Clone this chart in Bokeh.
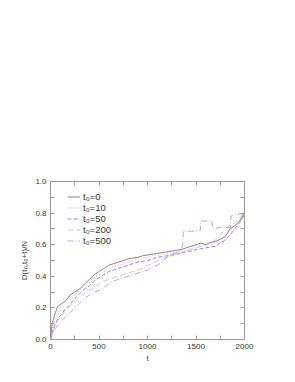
from bokeh.plotting import figure
from bokeh.models import Range1d, LinearAxis, FixedTicker, Legend, LegendItem
from bokeh.embed import file_html
from bokeh.resources import INLINE

# ---- data ----
t_common = [0, 10, 25, 50, 75, 100, 150, 200, 250, 300, 350, 400, 450, 500, 550, 600, 650, 700,
            750, 800, 850, 900, 950, 1000, 1050, 1100, 1150, 1200, 1250, 1300, 1350, 1400, 1450,
            1500, 1550, 1600, 1650, 1700, 1750, 1800, 1850, 1900, 1950, 2000]
d_t0_0 = [0, 0.07, 0.12, 0.17, 0.21, 0.22, 0.24, 0.28, 0.30, 0.32, 0.35, 0.38, 0.41, 0.43, 0.45,
          0.47, 0.48, 0.49, 0.50, 0.51, 0.515, 0.52, 0.53, 0.535, 0.54, 0.545, 0.55, 0.555, 0.56,
          0.565, 0.57, 0.58, 0.59, 0.60, 0.61, 0.60, 0.615, 0.62, 0.635, 0.65, 0.70, 0.72, 0.75, 0.80]
d_t0_10 = [0, 0.05, 0.09, 0.13, 0.16, 0.18, 0.22, 0.25, 0.28, 0.31, 0.34, 0.37, 0.39, 0.41, 0.43,
           0.45, 0.46, 0.47, 0.48, 0.49, 0.50, 0.51, 0.515, 0.52, 0.53, 0.535, 0.54, 0.545, 0.55,
           0.555, 0.56, 0.57, 0.575, 0.59, 0.60, 0.595, 0.60, 0.61, 0.62, 0.645, 0.69, 0.72, 0.76, 0.80]
d_t0_50 = [0, 0.03, 0.06, 0.10, 0.13, 0.15, 0.19, 0.22, 0.26, 0.29, 0.32, 0.34, 0.37, 0.39, 0.41,
           0.43, 0.44, 0.45, 0.46, 0.47, 0.48, 0.49, 0.495, 0.50, 0.51, 0.52, 0.525, 0.53, 0.535,
           0.54, 0.55, 0.555, 0.56, 0.57, 0.575, 0.58, 0.585, 0.59, 0.61, 0.63, 0.66, 0.70, 0.74, 0.79]
d_t0_200 = [0, 0.03, 0.05, 0.09, 0.12, 0.14, 0.18, 0.21, 0.24, 0.27, 0.29, 0.31, 0.33, 0.35, 0.37,
            0.38, 0.39, 0.40, 0.41, 0.42, 0.43, 0.44, 0.45, 0.47, 0.48, 0.50, 0.51, 0.52, 0.53,
            0.54, 0.55, 0.56, 0.57, 0.58, 0.59, 0.60, 0.61, 0.63, 0.66, 0.70, 0.72, 0.74, 0.77, 0.81]
t_500 = [0, 10, 25, 50, 75, 100, 150, 200, 250, 300, 350, 400, 450, 500, 550, 600, 650, 700, 750,
         800, 850, 900, 950, 1000, 1050, 1100, 1150, 1200, 1250, 1300, 1350, 1365, 1370, 1450,
         1545, 1550, 1600, 1665, 1670, 1750, 1855, 1860, 1900, 2000]
d_t0_500 = [0, 0.02, 0.04, 0.07, 0.09, 0.11, 0.14, 0.17, 0.20, 0.23, 0.26, 0.28, 0.30, 0.31, 0.33,
            0.35, 0.37, 0.38, 0.39, 0.40, 0.41, 0.42, 0.43, 0.44, 0.46, 0.47, 0.49, 0.52, 0.54,
            0.55, 0.57, 0.61, 0.685, 0.685, 0.69, 0.75, 0.75, 0.75, 0.70, 0.71, 0.71, 0.78, 0.79, 0.80]
labels = ["t\u2080=0", "t\u2080=10", "t\u2080=50", "t\u2080=200", "t\u2080=500"]
x_ticks = [0, 500, 1000, 1500, 2000]
y_ticks = [0.0, 0.2, 0.4, 0.6, 0.8, 1.0]

FONT = "Liberation Sans"

p = figure(width=278, height=370, output_backend="svg", toolbar_location=None,
           x_range=Range1d(0, 2000), y_range=Range1d(0, 1.0),
           min_border_left=50, min_border_top=181, min_border_right=34, min_border_bottom=31)
p.grid.visible = False
p.outline_line_color = "#999999"
p.outline_line_width = 1
p.background_fill_color = "white"
p.border_fill_color = "white"

series = [
    (t_common, d_t0_0, "#555555", "solid"),
    (t_common, d_t0_10, "#ff7070", "1 2"),
    (t_common, d_t0_50, "#5555ff", "4 2"),
    (t_common, d_t0_200, "#c0b0b0", "6 3"),
    (t_500, d_t0_500, "#8a80f0", "6 2 1 2"),
]
items = []
for (tx, dy, col, dash), lab in zip(series, labels):
    r = p.line(tx, dy, line_color=col, line_width=0.7, line_dash=dash)
    items.append(LegendItem(label=lab, renderers=[r]))

legend = Legend(items=items, location=(17, 93), border_line_color=None,
                background_fill_alpha=0, padding=0, spacing=0, margin=0,
                glyph_width=13, glyph_height=9, label_height=9, label_standoff=3,
                label_text_font=FONT, label_text_font_size="9.5px",
                label_text_color="#333333")
p.add_layout(legend, "center")

def style(ax):
    ax.axis_line_color = None
    ax.major_tick_in = 4
    ax.major_tick_out = 0
    ax.minor_tick_in = 4
    ax.minor_tick_out = 0
    ax.major_tick_line_color = "#999999"
    ax.minor_tick_line_color = "#999999"
    ax.major_label_text_font = FONT
    ax.major_label_text_font_size = "8px"
    ax.major_label_text_color = "#333333"

p.xaxis.ticker = FixedTicker(ticks=x_ticks, minor_ticks=[250, 750, 1250, 1750])
p.yaxis.ticker = FixedTicker(ticks=y_ticks, minor_ticks=[0.1, 0.3, 0.5, 0.7, 0.9])
style(p.xaxis[0])
style(p.yaxis[0])
p.yaxis[0].major_label_overrides = {v: f"{v:.1f}" for v in y_ticks}
p.xaxis.axis_label = "t"
p.yaxis.axis_label = "D(t\u2080,t\u2080+t)/N"
for ax in (p.xaxis[0], p.yaxis[0]):
    ax.axis_label_text_font = FONT
    ax.axis_label_text_font_size = "8px"
    ax.axis_label_text_font_style = "normal"
    ax.axis_label_text_color = "#333333"
p.xaxis[0].axis_label_standoff = 2
p.yaxis[0].axis_label_standoff = 3
p.xaxis[0].major_label_standoff = 4
p.yaxis[0].major_label_standoff = 4

ax_r = LinearAxis(ticker=FixedTicker(ticks=y_ticks, minor_ticks=[0.1, 0.3, 0.5, 0.7, 0.9]))
style(ax_r)
ax_r.major_label_overrides = {v: "" for v in y_ticks}
p.add_layout(ax_r, "right")
ax_t = LinearAxis(ticker=FixedTicker(ticks=x_ticks, minor_ticks=[250, 750, 1250, 1750]))
style(ax_t)
ax_t.major_label_overrides = {v: "" for v in x_ticks}
p.add_layout(ax_t, "above")

open("out.html", "w").write(file_html(p, INLINE))
